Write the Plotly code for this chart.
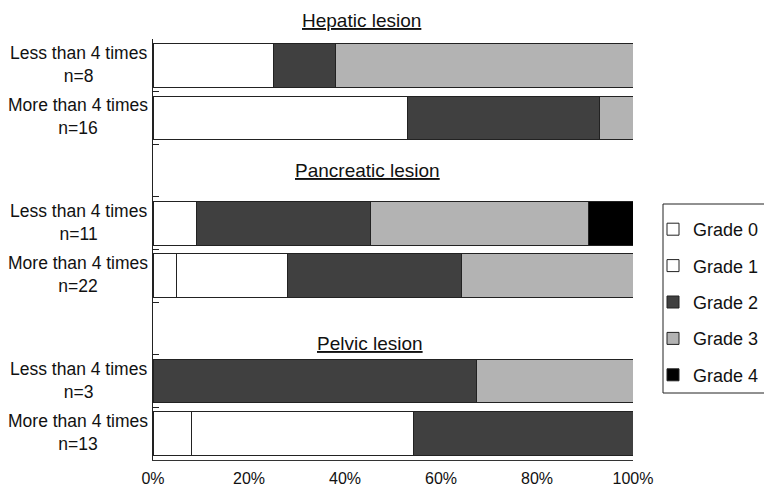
import plotly.graph_objects as go

# ---- data ----
group_titles = ["Hepatic lesion", "Pancreatic lesion", "Pelvic lesion"]
row_ids = ["hep_less", "hep_more", "pan_less", "pan_more", "pel_less", "pel_more"]
row_labels = ["Less than 4 times<br>n=8", "More than 4 times<br>n=16",
              "Less than 4 times<br>n=11", "More than 4 times<br>n=22",
              "Less than 4 times<br>n=3", "More than 4 times<br>n=13"]
category_order = ["hep_less", "hep_more", "gap1", "pan_less", "pan_more", "gap2", "pel_less", "pel_more"]

grade_names = ["Grade 0", "Grade 1", "Grade 2", "Grade 3", "Grade 4"]
grade0 = [25.0, 53.0, 9.0, 4.9, None, 8.1]
grade1 = [None, None, None, 23.1, None, 46.1]
grade2 = [13.0, 40.0, 36.3, 36.2, 67.4, 45.8]
grade3 = [62.0, 7.0, 45.5, 35.8, 32.6, None]
grade4 = [None, None, 9.2, None, None, None]
grade_values = [grade0, grade1, grade2, grade3, grade4]
grade_colors = ["#ffffff", "#ffffff", "#404040", "#b3b3b3", "#000000"]

x_ticks = [0, 20, 40, 60, 80, 100]
x_tick_labels = ["0%", "20%", "40%", "60%", "80%", "100%"]

FONT = "Liberation Sans, Arial, sans-serif"

W, H = 764, 495
ML, MT, MR, MB = 153, 39, 131, 35
PW = W - ML - MR   # 480
PH = H - MT - MB   # 421

def px_x(sx):   # screen x -> paper x
    return (sx - ML) / PW

def px_y(sy):   # screen y -> paper y
    return (H - MB - sy) / PH

fig = go.Figure()
for name, vals, col in zip(grade_names, grade_values, grade_colors):
    fig.add_trace(go.Bar(
        y=row_ids, x=vals, name=name, orientation="h",
        marker=dict(color=col, line=dict(color="#222222", width=1)),
        legendgroup=name,
    ))

# row labels (centered two-line)
for rid, lab in zip(row_ids, row_labels):
    fig.add_annotation(x=px_x(78), xref="paper", y=rid, yref="y", text=lab,
                       showarrow=False, xanchor="center", yanchor="middle",
                       align="center", yshift=1,
                       font=dict(family=FONT, size=17.5, color="#111111"))

# group titles
title_pos = [(43.5, px_y(20)), (44.6, px_y(170)), (45.2, px_y(343))]
for t, (xp, yp) in zip(group_titles, title_pos):
    fig.add_annotation(x=xp, xref="x", y=yp, yref="paper", text="<u>" + t + "</u>",
                       showarrow=False, xanchor="center", yanchor="middle",
                       font=dict(family=FONT, size=19, color="#111111"))

# legend box
fig.add_shape(type="rect", xref="paper", yref="paper",
              x0=px_x(663), x1=px_x(790),
              y0=px_y(393), y1=px_y(204),
              line=dict(color="#222222", width=1), fillcolor="rgba(0,0,0,0)")

fig.update_layout(
    width=W, height=H,
    barmode="stack", bargap=0.17,
    plot_bgcolor="white", paper_bgcolor="white",
    margin=dict(l=ML, r=MR, t=MT, b=MB, autoexpand=False),
    font=dict(family=FONT, size=16, color="#111111"),
    showlegend=True,
    legend=dict(x=px_x(653), xanchor="left", y=px_y(211), yanchor="top",
                traceorder="grouped", tracegroupgap=10,
                font=dict(family=FONT, size=18, color="#111111"),
                bgcolor="rgba(0,0,0,0)", borderwidth=0),
    xaxis=dict(range=[0, 100], tickmode="array", tickvals=x_ticks, ticktext=x_tick_labels,
               showgrid=False, zeroline=False, showline=True, linecolor="#333333", linewidth=1,
               ticks="", ticklabelstandoff=4, tickfont=dict(size=16)),
    yaxis=dict(type="category", categoryorder="array", categoryarray=category_order,
               range=[7.5, -0.5], showticklabels=False, showgrid=False, zeroline=False,
               showline=True, linecolor="#222222", linewidth=1,
               ticks="inside", tickson="boundaries", ticklen=6, tickcolor="#222222"),
)

fig.write_html("out.html", config={"displayModeBar": False},
               post_script="document.body.style.margin='0';document.body.style.overflow='hidden';")
